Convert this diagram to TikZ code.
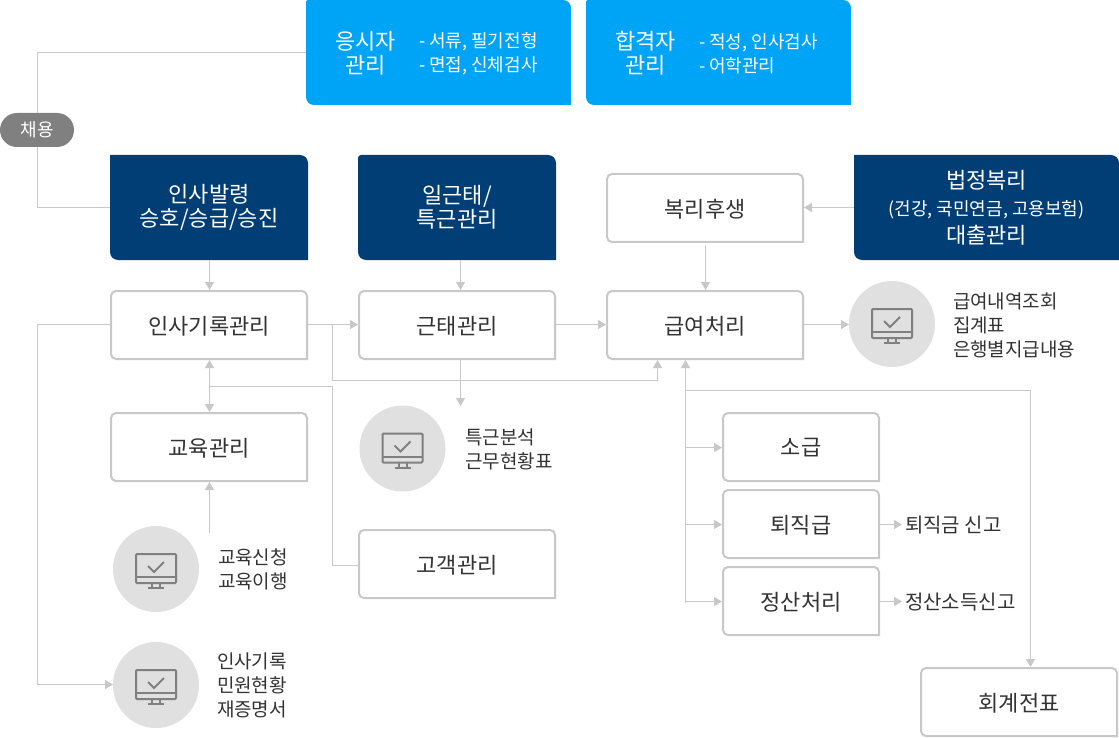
\documentclass[tikz,border=0pt]{standalone}
\usepackage{fontspec}
\newfontfamily\kr{Noto Sans CJK KR}
\usetikzlibrary{arrows.meta}
\definecolor{linegray}{HTML}{C8C8C8}
\definecolor{skyblue}{HTML}{00A4F6}
\definecolor{navyblue}{HTML}{003E75}
\definecolor{pillgray}{HTML}{808080}
\definecolor{circgray}{HTML}{E0E0E0}
\definecolor{icongray}{HTML}{808080}
\definecolor{txt}{HTML}{333333}
\tikzset{
  x=1pt,y=-1pt,
  every node/.style={font=\kr, inner sep=0pt, outer sep=0pt},
  lbl/.style={font=\kr\fontsize{22}{24}\selectfont, align=center, text=txt},
  wlbl/.style={lbl, text=white},
  sidetxt/.style={font=\kr\fontsize{19}{24}\selectfont, align=left, text=txt, anchor=west},
  steptxt/.style={font=\kr\fontsize{20}{24}\selectfont, align=left, text=txt, anchor=west},
  wsmall/.style={font=\kr\fontsize{18}{24}\selectfont, align=left, text=white, anchor=west},
  conn/.style={draw=linegray, line width=1pt},
  arr/.style={conn, -{Triangle[width=9pt,length=8pt,fill=linegray]}},
  darr/.style={conn, {Triangle[width=9pt,length=8pt,fill=linegray]}-{Triangle[width=9pt,length=8pt,fill=linegray]}},
  whitebox/.style={draw=linegray, line width=2pt, fill=white},
  bluebox/.style={fill=skyblue},
  navybox/.style={fill=navyblue},
  circ/.style={circle, fill=circgray, minimum size=86pt},
  icon/.style={draw=icongray, line width=2pt},
}
% [top-left radius] name, x1, y1, x2, y2, style, label style, text
\newcommand{\cardbox}[9][8]{%
  \path[#7] (#3,#6) [rounded corners=#1pt] -- (#3,#4) [rounded corners=8pt] -- (#5,#4) [sharp corners] -- (#5,#6) [rounded corners=8pt] -- cycle;
  \node[#8, minimum width=#5pt-#3pt, minimum height=#6pt-#4pt] (#2) at ({(#3+#5)/2},{(#4+#6)/2}) {#9};
}
\newcommand{\outlinebox}[6]{%
  \path[whitebox] (#2,#5) [rounded corners=5pt] -- (#2,#3) -- (#4,#3) [sharp corners] -- (#4,#5) [rounded corners=5pt] -- cycle;
  \node[lbl, yshift=-0.8pt, minimum width=#4pt-#2pt, minimum height=#5pt-#3pt] (#1) at ({(#2+#4)/2},{(#3+#5)/2}) {#6};
}
\newcommand{\monitor}[1]{%
  \begin{scope}[shift={(#1)}]
    \draw[icon, rounded corners=1pt] (-20,-15) rectangle (20,14);
    \draw[icon] (-20,8) -- (20,8);
    \draw[icon] (-8,-3) -- (-2,3) -- (8,-7);
    \draw[icon] (-4,14) -- (-4,19) (4,14) -- (4,19) (-8,19) -- (8,19);
  \end{scope}%
}
\begin{document}
\begin{tikzpicture}
\useasboundingbox (0,0) rectangle (1119,738);
% cards
\cardbox[2]{app}{306}{0}{571}{105}{bluebox}{wlbl}{}
\cardbox[2]{pass}{586}{0}{851}{105}{bluebox}{wlbl}{}
\node[wlbl] (apptitle) at (365.5,53.5) {응시자\\관리};
\node[wsmall] (appsub) at (419,54) {- 서류, 필기전형\\- 면접, 신체검사};
\node[wlbl] (passtitle) at (645.5,53.5) {합격자\\관리};
\node[wsmall] (passsub) at (699,54) {- 적성, 인사검사\\- 어학관리};
\cardbox[0]{appoint}{110}{155}{308}{260}{navybox}{wlbl}{인사발령\\승호/승급/승진}
\cardbox[3]{attend}{358}{155}{556}{260}{navybox}{wlbl}{일근태/\\특근관리}
\cardbox[0]{legal}{854}{155}{1119}{260}{navybox}{wlbl}{\fontsize{22}{24}\selectfont 법정복리\\[3.5pt]\fontsize{18}{24}\selectfont (건강, 국민연금, 고용보험)\\[3.5pt]\fontsize{22}{24}\selectfont 대출관리}
\outlinebox{welfare}{607}{174}{803}{242}{복리후생}
\outlinebox{record}{111}{291}{307}{359}{인사기록관리}
\outlinebox{work}{359}{291}{555}{359}{근태관리}
\outlinebox{pay}{607}{291}{803}{359}{급여처리}
\outlinebox{edu}{111}{413}{307}{481}{교육관리}
\outlinebox{cust}{359}{530}{555}{598}{고객관리}
\outlinebox{retro}{723}{413}{879}{481}{소급}
\outlinebox{sever}{723}{490}{879}{558}{퇴직급}
\outlinebox{settle}{723}{567}{879}{635}{정산처리}
\outlinebox{acct}{921}{668}{1117}{736}{회계전표}
\node[fill=pillgray, rounded corners=17pt, minimum width=74pt, minimum height=34pt, text=white, font=\kr\fontsize{18}{20}\selectfont] (hire) at (37,130) {채용};
% circles
\node[circ] (c1) at (892,324) {}; \monitor{c1}
\node[circ] (c2) at (402.5,448.5) {}; \monitor{c2}
\node[circ] (c3) at (156,569) {}; \monitor{c3}
\node[circ] (c4) at (156,685) {}; \monitor{c4}
% side texts
\node[sidetxt] (t1) at (953,325) {급여내역조회\\집계표\\은행별지급내용};
\node[sidetxt] (t2) at (465.5,449) {특근분석\\근무현황표};
\node[sidetxt] (t3) at (218,569) {교육신청\\교육이행};
\node[sidetxt] (t4) at (217,685) {인사기록\\민원현황\\재증명서};
\node[steptxt] (t5) at (905,525) {퇴직금 신고};
\node[steptxt] (t6) at (905,602) {정산소득신고};
% helper points
\coordinate (j1) at (332.5,324.5);
\coordinate (j2) at (209.5,386.5);
\coordinate (j3) at (685.5,390.5);
\coordinate (e3) at (209.5,533);
% connectors
\draw[conn] (306,52.5) -- (37.5,52.5) -- (37.5,113);
\draw[conn] (37.5,147) -- (37.5,207.5) -- (110,207.5);
\draw[arr] ([xshift=0.5pt]appoint.south) -- ([shift={(0.5,-1.8)}]record.north);
\draw[arr] ([xshift=3.5pt]attend.south) -- ([shift={(3.5,-1.8)}]work.north);
\draw[arr] (854,207.5) -- (804,207.5);
\draw[arr] ([xshift=0.5pt]welfare.south) ++(0,2) -- ([shift={(0.5,-1.8)}]pay.north);
\draw[arr] (308,324.5) -- (358,324.5);
\draw[arr] (556,324.5) -- (606,324.5);
\draw[arr] (804,324.5) -- (849,324.5);
\draw[arr] (j1) -- (332.5,380.5) -- (657.5,380.5) -- (657.5,360);
\draw[arr] (460.5,360) -- (460.5,406);
\draw[darr] (209.5,360) -- (209.5,412);
\draw[conn] (j2) -- (332.5,386.5) -- (332.5,565.5) -- (358,565.5);
\draw[arr] (e3) -- (209.5,482);
\draw[arr] (110,324.5) -- (37.5,324.5) -- (37.5,684.5) -- (113,684.5);
\draw[arr] (685.5,602.5) -- (685.5,360);
\draw[arr] (685.5,447.5) -- (722,447.5);
\draw[arr] (685.5,524.5) -- (722,524.5);
\draw[arr] (685.5,601.5) -- (722,601.5);
\draw[arr] (j3) -- (1030.5,390.5) -- (1030.5,667);
\draw[arr] (880,524.5) -- (902,524.5);
\draw[arr] (880,601.5) -- (902,601.5);
\end{tikzpicture}
\end{document}
